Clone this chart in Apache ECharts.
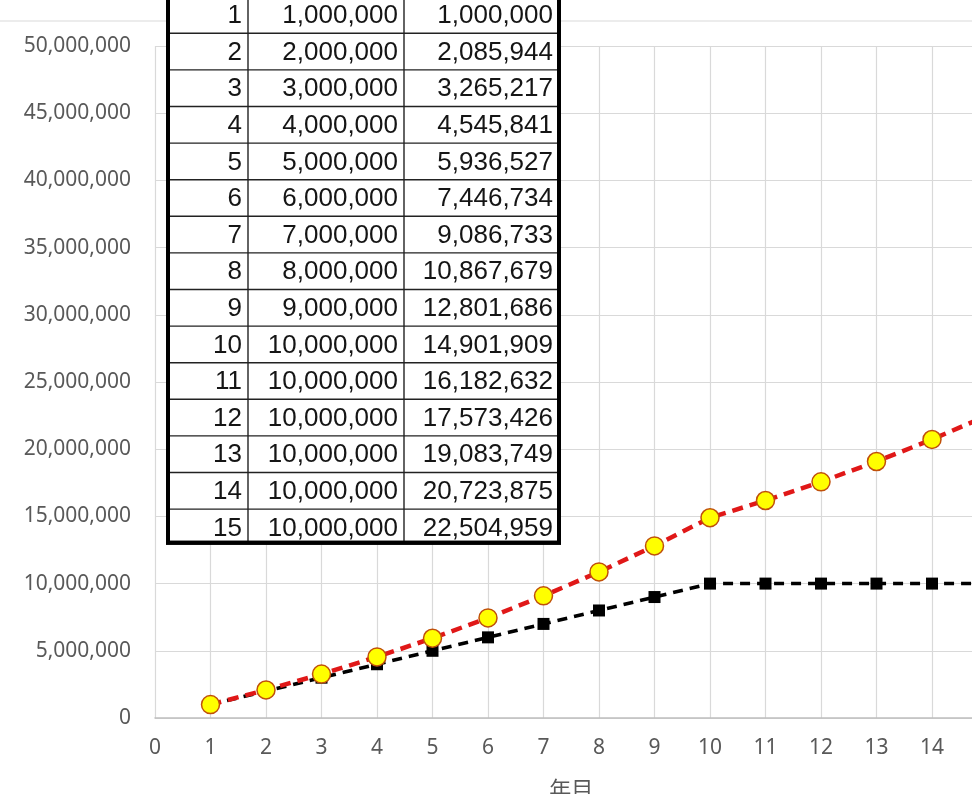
<!DOCTYPE html>
<html>
<head>
<meta charset="utf-8">
<script src="https://cdn.jsdelivr.net/npm/echarts@6/dist/echarts.min.js"></script>
<style>
html,body{margin:0;padding:0;background:#fff;}
#main{width:972px;height:794px;}
</style>
</head>
<body>
<div id="main"></div>
<script>
// 年目 / 積立額 / 評価額
var years = [1,2,3,4,5,6,7,8,9,10,11,12,13,14,15];
var invested = [1000000,2000000,3000000,4000000,5000000,6000000,7000000,8000000,9000000,10000000,10000000,10000000,10000000,10000000,10000000];
var assets = [1000000,2085944,3265217,4545841,5936527,7446734,9086733,10867679,12801686,14901909,16182632,17573426,19083749,20723875,22504959];

function fmt(v){ return v.toString().replace(/\B(?=(\d{3})+(?!\d))/g, ','); }

var chart = echarts.init(document.getElementById('main'));

// 表 (graphic で描く)
var colX = [168, 248, 404, 559];
var rowTop = -3.3, rowH = 36.6;
var tbl = [];
for (var i = 0; i < years.length; i++) {
    var y0 = rowTop + i * rowH;
    var cells = [years[i], fmt(invested[i]), fmt(assets[i])];
    for (var c = 0; c < 3; c++) {
        tbl.push({
            type: 'text', z: 103,
            style: {
                x: colX[c + 1] - 6, y: y0 + rowH / 2 + 1,
                text: String(cells[c]),
                align: 'right', verticalAlign: 'middle',
                font: '26px "Liberation Sans", Arial, sans-serif',
                fill: '#151515'
            }
        });
    }
    if (i > 0) {
        tbl.push({type: 'line', z: 102, shape: {x1: colX[0], y1: y0, x2: colX[3], y2: y0},
            style: {stroke: '#222', lineWidth: 1.4}});
    }
}
var tblBottom = rowTop + years.length * rowH - 3;
tbl.push({type: 'line', z: 102, shape: {x1: colX[1], y1: rowTop, x2: colX[1], y2: tblBottom}, style: {stroke: '#222', lineWidth: 1.4}});
tbl.push({type: 'line', z: 102, shape: {x1: colX[2], y1: rowTop, x2: colX[2], y2: tblBottom}, style: {stroke: '#222', lineWidth: 1.4}});
tbl.unshift({type: 'rect', z: 101, shape: {x: colX[0], y: rowTop, width: colX[3] - colX[0], height: tblBottom - rowTop},
    style: {fill: '#fff', stroke: '#000', lineWidth: 4}});
tbl.push({type: 'rect', z: 104, shape: {x: colX[0], y: rowTop, width: colX[3] - colX[0], height: tblBottom - rowTop},
    style: {fill: null, stroke: '#000', lineWidth: 4}});

var option = {
    backgroundColor: '#fff',
    animation: false,
    grid: {left: 155, right: -15.5, top: 46, bottom: 76, outerBoundsMode: 'none', containLabel: false},
    xAxis: {
        type: 'value', min: 0, max: 15, interval: 1,
        name: '年目', nameLocation: 'middle', nameGap: 60,
        nameTextStyle: {color: '#595959', fontSize: 22, fontFamily: '"Noto Sans CJK JP"'},
        axisLine: {show: true, lineStyle: {color: '#bfbfbf', width: 1.5}},
        axisTick: {show: false},
        axisLabel: {color: '#595959', fontSize: 21, fontFamily: '"Noto Sans"', margin: 20},
        splitLine: {show: true, lineStyle: {color: '#d9d9d9', width: 1.2}}
    },
    yAxis: {
        type: 'value', min: 0, max: 50000000, interval: 5000000,
        name: '金額（円）', nameLocation: 'middle', nameGap: 170, nameRotate: 90,
        nameTextStyle: {color: '#595959', fontSize: 22, fontFamily: '"Noto Sans CJK JP"'},
        axisLine: {show: false},
        axisTick: {show: false},
        axisLabel: {color: '#595959', fontSize: 21, fontFamily: '"Noto Sans"', margin: 24,
            formatter: function (v) { return fmt(v); }},
        splitLine: {show: true, lineStyle: {color: '#d9d9d9', width: 1.2}}
    },
    graphic: [
        {type: 'line', shape: {x1: 0, y1: 21, x2: 972, y2: 21}, style: {stroke: '#d9d9d9', lineWidth: 1.2}},
        {type: 'group', z: 100, children: tbl}
    ],
    series: [
        {
            name: '積立額',
            type: 'line',
            data: years.map(function (y, i) { return [y, invested[i]]; }),
            symbol: 'rect', symbolSize: 12,
            itemStyle: {color: '#000'},
            lineStyle: {color: '#000', width: 3.5, type: [10, 7]},
            z: 2
        },
        {
            name: '評価額',
            type: 'line',
            data: years.map(function (y, i) { return [y, assets[i]]; }),
            symbol: 'circle', symbolSize: 18,
            itemStyle: {color: '#ffff00', borderColor: '#c0500a', borderWidth: 1.5},
            lineStyle: {color: '#e01818', width: 4.5, type: [11, 7]},
            z: 3
        }
    ]
};
chart.setOption(option);
</script>
</body>
</html>
